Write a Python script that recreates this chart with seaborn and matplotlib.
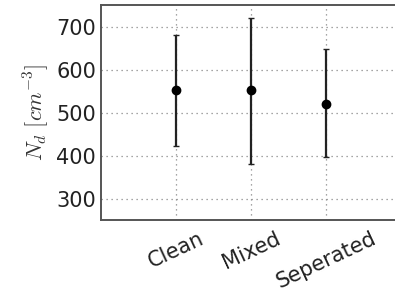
import matplotlib
matplotlib.use("Agg")
import matplotlib.pyplot as plt
import seaborn as sns
import pandas as pd

# Mittelwerte und Fehler der Tropfenanzahl
categories = ["Clean", "Mixed", "Seperated"]
means = [552, 552, 521]
err_low = [130, 171, 124]
err_high = [129, 168, 126]

sns.set_style("white")
plt.rcParams['font.family'] = ['DejaVu Sans']
plt.rcParams['mathtext.fontset'] = 'cm'

df = pd.DataFrame({"cat": categories, "N": means})

fig = plt.figure(figsize=(3.95, 3.02), dpi=100)
ax = fig.add_axes([0.2557, 0.2715, 0.7595, 0.7115])

ax.errorbar(range(len(categories)), means, yerr=[err_low, err_high],
            fmt="none", ecolor="#222222", elinewidth=1.6, capsize=2.5,
            capthick=1.0, zorder=3)
sns.pointplot(data=df, x="cat", y="N", color="black", linestyle="none",
              markersize=5, errorbar=None, ax=ax, zorder=4)

ax.set_xlim(-1, 3)
ax.set_ylim(250, 750)
ax.set_yticks([300, 400, 500, 600, 700])
ax.set_xlabel("")
ax.set_ylabel(r"$N_d\ [cm^{-3}]$", fontsize=16, color="#333333", labelpad=4)
ax.grid(True, linestyle=(0, (1, 3)), color="#888888", linewidth=0.9)
ax.tick_params(axis="both", direction="in", length=4, color="#555555",
               labelsize=15, labelcolor="#222222")
ax.tick_params(axis="x", pad=6)
plt.setp(ax.get_xticklabels(), rotation=25, ha="center")
for s in ax.spines.values():
    s.set_color("#555555")
    s.set_linewidth(1.4)

fig.savefig("out.png", dpi=100)
